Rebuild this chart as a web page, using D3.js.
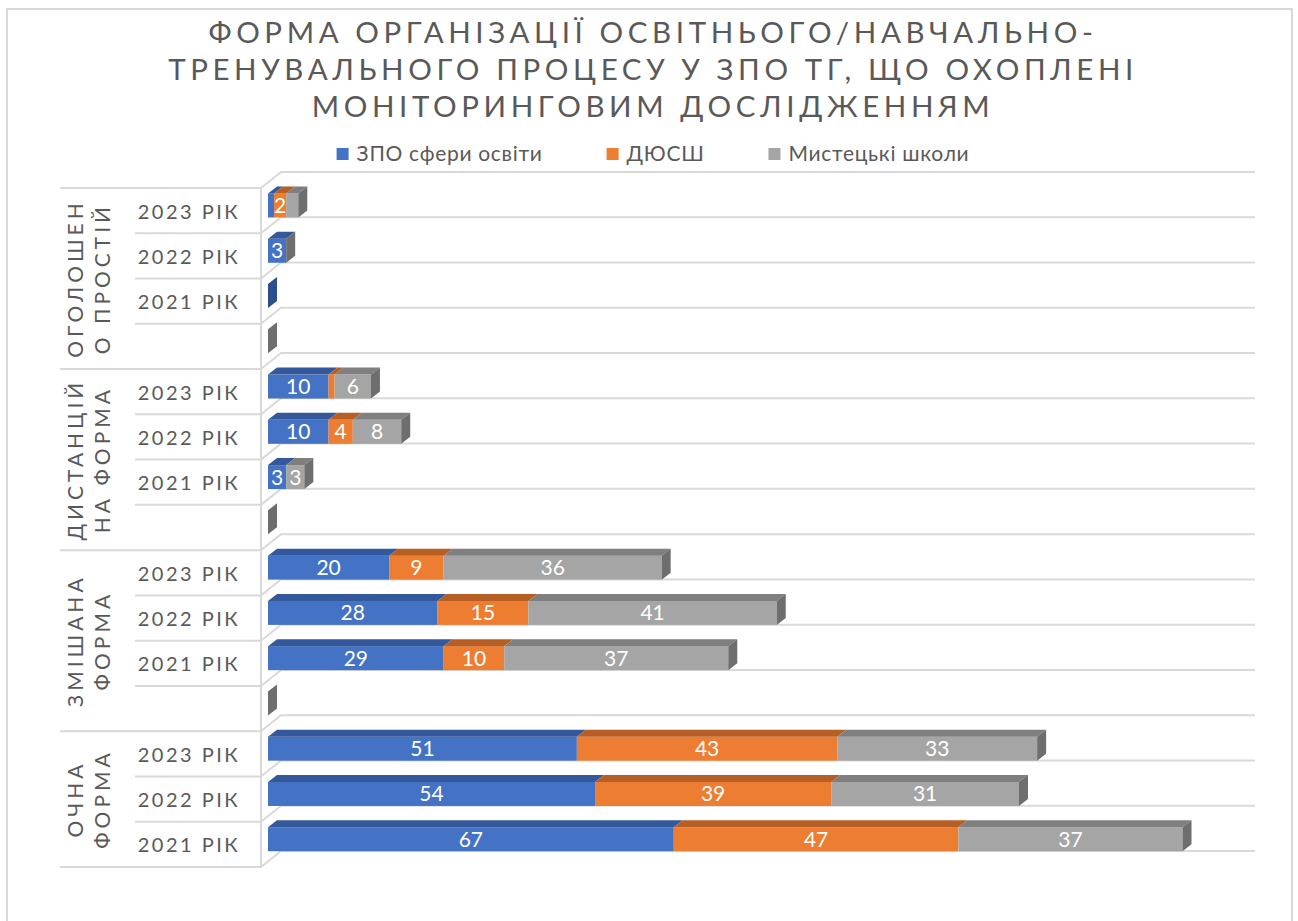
<!DOCTYPE html>
<html>
<head>
<meta charset="utf-8">
<script src="https://cdn.jsdelivr.net/npm/d3@7"></script>
<style>
  body { margin: 0; background: #fff; }
  text { font-family: Lato, "Open Sans", sans-serif; }
</style>
</head>
<body>
<div id="chart"></div>
<script>
// chart data, rows listed top to bottom as displayed
var titleLines = ["ФОРМА ОРГАНІЗАЦІЇ ОСВІТНЬОГО/НАВЧАЛЬНО-",
  "ТРЕНУВАЛЬНОГО ПРОЦЕСУ У ЗПО ТГ, ЩО ОХОПЛЕНІ",
  "МОНІТОРИНГОВИМ ДОСЛІДЖЕННЯМ"];
var seriesNames = ["ЗПО сфери освіти", "ДЮСШ", "Мистецькі школи"];
var groupLines = [["ОГОЛОШЕН", "О ПРОСТІЙ"], ["ДИСТАНЦІЙ", "НА ФОРМА"], ["ЗМІШАНА", "ФОРМА"], ["ОЧНА", "ФОРМА"]];
var groupSizes = [4, 4, 4, 3];
var rowLabels = ["2023 РІК", "2022 РІК", "2021 РІК", "",
  "2023 РІК", "2022 РІК", "2021 РІК", "",
  "2023 РІК", "2022 РІК", "2021 РІК", "",
  "2023 РІК", "2022 РІК", "2021 РІК"];
var zpoValues = [1, 3, 0, 0, 10, 10, 3, 0, 20, 28, 29, 0, 51, 54, 67];
var dyusshValues = [2, 0, null, 0, 1, 4, 0, 0, 9, 15, 10, 0, 43, 39, 47];
var artValues = [2, 0, null, 0, 6, 8, 3, 0, 36, 41, 37, 0, 33, 31, 37];
var hiddenLabels = [[0, 2]]; // [row, series] labels left out in the original

var colors = ["#4472C4", "#ED7D31", "#A5A5A5"];
var topColors = ["#34589C", "#B65E24", "#7F7F7F"];
var sideColors = ["#2C4E8C", "#A4521D", "#6E6E6E"];

var W = 1298, H = 921;
var depthX = 9, depthY = 7;
var axisX = 261;

var svg = d3.select("#chart").append("svg")
  .attr("width", W).attr("height", H);

// chart frame
svg.append("rect")
  .attr("x", 7).attr("y", 9).attr("width", 1285).attr("height", 930)
  .attr("fill", "none").attr("stroke", "#d9d9d9").attr("stroke-width", 2);

// title
svg.append("g").selectAll("text")
  .data(titleLines).enter().append("text")
  .attr("x", W / 2 + 4).attr("y", function (d, i) { return 43 + i * 37; })
  .attr("text-anchor", "middle")
  .attr("font-size", 29.5).attr("letter-spacing", "4.6px")
  .attr("fill", "#595959")
  .text(function (d) { return d; });

var rowIndex = d3.range(rowLabels.length);
var y = d3.scaleBand().domain(rowIndex).range([188, 867]);
var x = d3.scaleLinear().domain([0, 160]).range([268, 1237]);

// floor lines
var bounds = d3.range(rowLabels.length + 1).map(function (i) { return 188 + i * y.step(); });
var grid = svg.append("g").attr("stroke", "#d9d9d9").attr("stroke-width", 2).attr("fill", "none");
bounds.forEach(function (b) {
  grid.append("path")
    .attr("d", "M" + axisX + "," + b + "L" + (axisX + 20) + "," + (b - 16) + "H1255");
});
grid.append("line").attr("x1", axisX).attr("x2", axisX).attr("y1", 188).attr("y2", 868);

// category axis lines (group and row level)
var groupStarts = [0];
groupSizes.forEach(function (s, i) { groupStarts.push(groupStarts[i] + s); });
bounds.forEach(function (b, i) {
  var isGroup = groupStarts.indexOf(i) >= 0;
  grid.append("line")
    .attr("x1", isGroup ? 60 : 135).attr("x2", axisX)
    .attr("y1", b).attr("y2", b);
});

// row labels
svg.append("g").selectAll("text")
  .data(rowIndex).enter().append("text")
  .attr("x", 189).attr("y", function (i) { return y(i) + y.bandwidth() / 2 + 8; })
  .attr("text-anchor", "middle")
  .attr("font-size", 20).attr("letter-spacing", "2.5px")
  .attr("fill", "#595959")
  .text(function (i) { return rowLabels[i]; });

// group labels (rotated)
groupLines.forEach(function (lines, g) {
  var top = y(groupStarts[g]);
  var bottom = y(groupStarts[g + 1] - 1) + y.bandwidth();
  var cy = (top + bottom) / 2;
  lines.forEach(function (line, k) {
    var bx = 83 + k * 27;
    svg.append("text")
      .attr("transform", "translate(" + bx + "," + cy + ") rotate(-90)")
      .attr("text-anchor", "middle")
      .attr("font-size", 21).attr("letter-spacing", "4px")
      .attr("fill", "#595959")
      .text(line);
  });
});

// stacked 3D bars
var seriesValues = [zpoValues, dyusshValues, artValues];
var bars = svg.append("g");
var labelLayer = svg.append("g");
rowIndex.forEach(function (r) {
  var yTop = y(r) + 5.5;
  var h = 24;
  var cum = 0;
  var last = -1, lastX = x(0);
  seriesValues.forEach(function (vals, s) {
    var v = vals[r];
    if (v === null) return;
    var x0 = x(cum), x1 = x(cum + v);
    cum += v;
    bars.append("rect")
      .attr("x", x0).attr("y", yTop).attr("width", x1 - x0).attr("height", h)
      .attr("fill", colors[s]);
    if (x1 > x0) {
      bars.append("path")
        .attr("d", "M" + x0 + "," + yTop + "L" + x1 + "," + yTop +
          "L" + (x1 + depthX) + "," + (yTop - depthY) + "L" + (x0 + depthX) + "," + (yTop - depthY) + "Z")
        .attr("fill", topColors[s]);
    }
    last = s; lastX = x1;
    var hidden = hiddenLabels.some(function (d) { return d[0] === r && d[1] === s; });
    if (v >= 2 && !hidden) {
      labelLayer.append("text")
        .attr("x", (x0 + x1) / 2).attr("y", yTop + h / 2 + 7.5)
        .attr("text-anchor", "middle")
        .attr("font-size", 21).attr("fill", "#fff")
        .text(v);
    }
  });
  if (last >= 0) {
    bars.append("path")
      .attr("d", "M" + lastX + "," + yTop + "L" + (lastX + depthX) + "," + (yTop - depthY) +
        "L" + (lastX + depthX) + "," + (yTop + h - depthY) + "L" + lastX + "," + (yTop + h) + "Z")
      .attr("fill", sideColors[last]);
  }
});
labelLayer.raise();

// legend
var legend = svg.append("g");
var lx = 0;
var items = [];
seriesNames.forEach(function (name, i) {
  var g = legend.append("g");
  g.append("rect").attr("x", 0).attr("y", -13).attr("width", 12).attr("height", 12).attr("fill", colors[i]);
  var t = g.append("text").attr("x", 20).attr("y", 0)
    .attr("font-size", 21).attr("letter-spacing", "0.7px")
    .attr("fill", "#595959").text(name);
  items.push({ g: g, w: 20 + t.node().getComputedTextLength() });
});
items.forEach(function (it) {
  it.g.attr("transform", "translate(" + lx + ",0)");
  lx += it.w + 64;
});
var legendW = lx - 64;
legend.attr("transform", "translate(" + (653 - legendW / 2) + ",161)");
</script>
</body>
</html>
